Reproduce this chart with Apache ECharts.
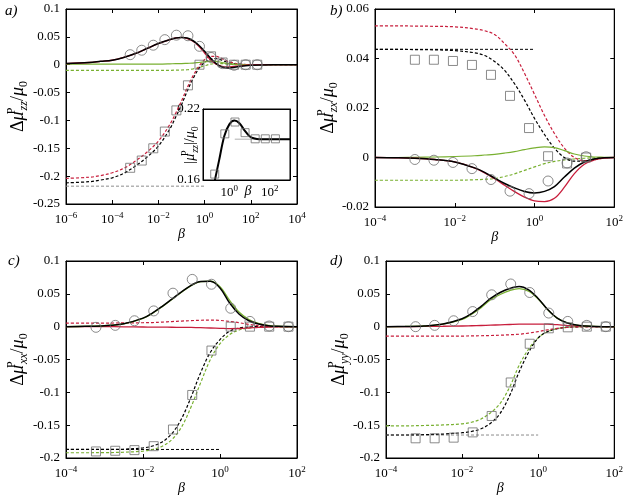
<!DOCTYPE html>
<html><head><meta charset="utf-8">
<script src="https://cdn.jsdelivr.net/npm/echarts@6/dist/echarts.min.js"></script>
<style>html,body{margin:0;padding:0;background:#fff}#c{width:626px;height:496px}</style>
</head><body><div id="c"></div>
<script>
// ================= DATA =================
// ---- panel a ----
const aCurveBeta = [1e-6,1e-5,3.16e-5,1e-4,3.16e-4,1e-3,3.16e-3,0.01,0.0316,0.0562,0.1,0.178,0.316,0.562,1,1.78,3.16,5.62,10,17.8,31.6,100,1000,1e4];
const aBlackSolid = [0.002,0.004,0.006,0.008,0.013,0.02,0.029,0.038,0.045,0.048,0.049,0.048,0.043,0.035,0.024,0.012,0.002,-0.004,-0.006,-0.005,-0.003,-0.001,0,0];
const aRedSolid   = [0.002,0.004,0.006,0.008,0.013,0.02,0.029,0.038,0.045,0.048,0.049,0.047,0.042,0.033,0.021,0.009,0.001,-0.003,-0.004,-0.003,-0.002,0,0,0];
const aGreenSolid = [0.001,0.001,0.001,0.001,0.001,0.001,0.001,0.001,0.0015,0.002,0.002,0.0025,0.003,0.004,0.005,0.006,0.006,0.004,0.002,0.001,0.0005,0,0,0];
const aGreenDashed= [-0.01,-0.01,-0.01,-0.01,-0.01,-0.01,-0.01,-0.01,-0.01,-0.0098,-0.0095,-0.009,-0.0075,-0.005,-0.002,0.001,0.002,0.002,0.001,0.0005,0,0,0,0];
const aBlackDashed= [-0.212,-0.21,-0.207,-0.203,-0.195,-0.182,-0.166,-0.146,-0.115,-0.094,-0.072,-0.047,-0.025,-0.007,0.004,0.01,0.011,0.008,0.004,0.002,0.001,0,0,0];
const aRedDashed  = [-0.204,-0.202,-0.199,-0.194,-0.186,-0.173,-0.157,-0.137,-0.107,-0.087,-0.065,-0.041,-0.02,-0.003,0.009,0.015,0.015,0.011,0.006,0.003,0.001,0,0,0];
const aHLineBeta = [1e-6,1];
const aHLine = [-0.218,-0.218];
const aPtBeta = [6e-4,1.9e-3,6e-3,0.019,0.06,0.19,0.6,1.9,6,19,60,190];
const aSquares = [-0.185,-0.172,-0.15,-0.12,-0.082,-0.037,0,0.015,0.004,0,0,0];
const aCircles = [0.018,0.026,0.035,0.045,0.053,0.052,0.033,0.013,0.002,-0.001,0,0];
const aYTicks = [-0.25,0.1,0.05];          // min, max, step
const aXTicks = [1e-6,1e4];
// ---- inset of a ----
const insetBeta  = [0.178,0.316,0.562,1,1.78,3.16,5.62,10,17.8,31.6,100,1000];
const insetCurve = [0.157,0.177,0.197,0.207,0.2103,0.208,0.202,0.197,0.195,0.1945,0.1945,0.1945];
const insetGrayBeta = [1.86,1000];
const insetGray = [0.1945,0.1945];
const insetPtBeta = [0.19,0.6,1.9,6,19,60,190];
const insetSquares = [0.165,0.199,0.209,0.2,0.1948,0.1948,0.1948];
const insetYTicks = [0.16,0.22];
const insetXTicks = [0.05,1000];
// ---- panel b ----
const bCurveBeta = [1e-4,3.16e-4,1e-3,3.16e-3,0.01,0.0316,0.0562,0.1,0.178,0.316,0.562,1,1.78,3.16,5.62,10,17.8,31.6,56.2,100];
const bRedDashed  = [0.0532,0.0532,0.0531,0.053,0.0528,0.052,0.0512,0.0497,0.046,0.0415,0.034,0.0255,0.017,0.0097,0.0038,0,-0.0013,-0.0009,-0.0002,0];
const bBlackDashed= [0.0437,0.0437,0.0436,0.0435,0.0432,0.0423,0.0412,0.0388,0.0352,0.0298,0.0232,0.0158,0.0093,0.0038,0,-0.0015,-0.0014,-0.0006,-0.0001,0];
const bGreenSolid = [0,0,0.0001,0.0002,0.0004,0.0007,0.001,0.0013,0.0018,0.0024,0.0032,0.0039,0.0043,0.004,0.0028,0.0014,0.0006,0.0002,0.0001,0];
const bGreenDashed= [-0.0092,-0.0092,-0.0092,-0.0092,-0.0092,-0.009,-0.0088,-0.0085,-0.0077,-0.0066,-0.0052,-0.0038,-0.0025,-0.0016,-0.001,-0.0006,-0.0003,-0.0001,0,0];
const bBlackSolid = [0,-0.0001,-0.0003,-0.0008,-0.0018,-0.0042,-0.006,-0.0083,-0.0105,-0.0123,-0.0137,-0.0143,-0.0137,-0.0118,-0.0079,-0.0043,-0.0018,-0.0006,-0.0001,0];
const bRedSolid   = [0,-0.0001,-0.0003,-0.0008,-0.0018,-0.0043,-0.0062,-0.0086,-0.0112,-0.0138,-0.016,-0.0175,-0.0178,-0.0165,-0.012,-0.0065,-0.0027,-0.001,-0.0002,0];
const bHLineBeta = [1e-4,1];
const bHLine = [0.0437,0.0437];
const bPtBeta = [0.001,0.003,0.009,0.027,0.081,0.243,0.729,2.19,6.56,19.7];
const bSquares = [0.0395,0.0395,0.039,0.0374,0.0334,0.0249,0.0119,0.0005,-0.0024,0];
const bCircles = [-0.0008,-0.0011,-0.002,-0.0045,-0.0089,-0.0136,-0.0146,-0.0095,-0.0022,0.0003];
const bYTicks = [-0.02,0.06,0.02];
const bXTicks = [1e-4,100];
// ---- panels c, d (shared curve abscissae) ----
const cdCurveBeta = [1e-4,3.16e-4,1e-3,3.16e-3,0.01,0.0178,0.0316,0.0562,0.1,0.178,0.316,0.562,1,1.78,3.16,5.62,10,17.8,31.6,100];
const cdPtBeta = [6e-4,1.9e-3,6e-3,0.019,0.06,0.19,0.6,1.9,6,19,60];
const cdYTicks = [-0.2,0.1,0.05];
const cdXTicks = [1e-4,100];
// ---- panel c ----
const cBlackSolid = [0,0.0005,0.0015,0.0045,0.013,0.021,0.031,0.042,0.053,0.063,0.0688,0.069,0.059,0.036,0.019,0.009,0.004,0.0015,0.0005,0];
const cGreenSolid = [0,0.0005,0.0015,0.0044,0.0127,0.0205,0.0305,0.0415,0.0525,0.0625,0.0685,0.0692,0.061,0.04,0.022,0.011,0.005,0.002,0.0006,0];
const cRedSolid   = [0,0,0,-0.0002,-0.0005,-0.0007,-0.0008,-0.0009,-0.001,-0.0012,-0.0015,-0.002,-0.0025,-0.003,-0.0028,-0.002,-0.001,-0.0005,-0.0003,0];
const cRedDashed  = [0.0055,0.0055,0.0055,0.0057,0.006,0.0063,0.007,0.0078,0.0085,0.0092,0.0098,0.01,0.0095,0.008,0.006,0.0035,0.0015,0.0006,0.0002,0];
const cBlackDashed= [-0.187,-0.187,-0.1869,-0.1865,-0.1846,-0.1817,-0.1755,-0.1629,-0.1403,-0.1069,-0.0696,-0.039,-0.0196,-0.007,-0.002,-0.0005,0,0,0,0];
const cGreenDashed= [-0.192,-0.192,-0.1918,-0.1912,-0.1895,-0.187,-0.182,-0.172,-0.153,-0.122,-0.085,-0.05,-0.026,-0.012,-0.005,-0.002,-0.0008,-0.0003,0,0];
const cHLineBeta = [1e-4,1];
const cHLine = [-0.187,-0.187];
const cSquares = [-0.19,-0.189,-0.188,-0.182,-0.1566,-0.104,-0.0364,0,0,0,0];
const cCircles = [-0.001,0.002,0.009,0.024,0.051,0.072,0.0646,0.028,0.008,0.001,0];
// ---- panel d ----
const dBlackSolid = [0,0.0003,0.001,0.004,0.012,0.02,0.031,0.043,0.052,0.058,0.061,0.056,0.043,0.026,0.013,0.006,0.0025,0.001,0.0003,0];
const dGreenSolid = [0,0.0003,0.001,0.0038,0.011,0.019,0.029,0.041,0.049,0.055,0.058,0.054,0.042,0.026,0.013,0.006,0.0025,0.001,0.0003,0];
const dRedSolid   = [0,0.0001,0.0003,0.0006,0.001,0.0014,0.0018,0.0023,0.0028,0.0033,0.0038,0.004,0.004,0.0038,0.003,0.002,0.0012,0.0006,0.0002,0];
const dRedDashed  = [-0.0145,-0.0145,-0.0145,-0.0144,-0.0143,-0.0141,-0.0138,-0.0135,-0.013,-0.0123,-0.0115,-0.0098,-0.0075,-0.0048,-0.0025,-0.0012,-0.0005,-0.0002,0,0];
const dGreenDashed= [-0.151,-0.151,-0.1505,-0.1497,-0.148,-0.1455,-0.1405,-0.131,-0.117,-0.092,-0.059,-0.034,-0.017,-0.0075,-0.003,-0.001,-0.0003,0,0,0];
const dBlackDashed= [-0.165,-0.165,-0.1645,-0.1635,-0.1615,-0.1595,-0.1555,-0.147,-0.132,-0.105,-0.069,-0.039,-0.017,-0.0075,-0.003,-0.001,-0.0003,0,0,0];
const dHLineBeta = [1e-4,1];
const dHLine = [-0.165,-0.165];
const dSquares = [-0.17,-0.17,-0.169,-0.161,-0.136,-0.085,-0.026,-0.0025,-0.001,0,0];
const dCircles = [0,0.002,0.009,0.023,0.0485,0.065,0.052,0.0207,0.008,0.002,0];

// ================= STYLE / BUILD =================
const FONT = '"Liberation Serif","DejaVu Serif",serif';
const RED = '#c81e3c', GREEN = '#78b030', BLACK = '#000000', GRAY = '#6e6e6e', LGRAY = '#8c8c8c';
const pairs = (xs, ys) => xs.map((x, i) => [x, ys[i]]);

function expText(v) {
  const e = Math.round(Math.log10(v));
  return '{b|10}{e|' + (e < 0 ? '\u2212' + (-e) : String(e)) + '}';
}
const expRich = {
  b: {fontFamily: FONT, fontSize: 13, color: '#000', lineHeight: 18},
  e: {fontFamily: FONT, fontSize: 9, color: '#000', lineHeight: 10, verticalAlign: 'top'}
};
function yNameText(sub) {
  return '{d|\u0394}{i|\u03bc}{p|P}{s|' + sub + '}{d|/}{i|\u03bc}{z|0}';
}
function yRich(big, small) {
  return {
    d: {fontFamily: FONT, fontSize: big, lineHeight: big + 6, color: '#000'},
    i: {fontFamily: FONT, fontSize: big, fontStyle: 'italic', lineHeight: big + 6, color: '#000'},
    p: {fontFamily: FONT, fontSize: small, lineHeight: small, verticalAlign: 'top', width: 1, color: '#000'},
    s: {fontFamily: FONT, fontSize: small, fontStyle: 'italic', lineHeight: small, verticalAlign: 'bottom', color: '#000'},
    z: {fontFamily: FONT, fontSize: small, lineHeight: small, verticalAlign: 'bottom', color: '#000'}
  };
}

const grids = [], xAxes = [], yAxes = [], series = [];
const axisLineS = {show: true, onZero: false, lineStyle: {color: '#000', width: 1}};
const tickS = {show: true, inside: true, length: 4, lineStyle: {color: '#000', width: 1}};

function addPanel(p) {
  const gi = grids.length;
  grids.push({left: p.left, top: p.top, width: p.width, height: p.height, show: true,
    borderColor: '#000', borderWidth: 1, backgroundColor: '#fff', containLabel: false});
  const xi = xAxes.length, yi = yAxes.length;
  const xBase = {type: 'log', logBase: 10, gridIndex: gi, min: p.xTicks[0], max: p.xTicks[1],
    splitLine: {show: false}, minorTick: {show: false}, minorSplitLine: {show: false},
    axisLine: axisLineS, axisTick: p.inset ? {show: false} : tickS};
  if (!p.inset) { xBase.interval = 2; xBase.splitNumber = p.xSplit; }
  xAxes.push(Object.assign({}, xBase, {position: 'bottom',
    axisLabel: {margin: p.inset ? 4 : 7, rich: expRich, showMinLabel: !p.inset, showMaxLabel: !p.inset,
      formatter: p.inset ? (v => { const l = Math.log10(v); return (Math.abs(l) < 1e-6 || Math.abs(l - 2) < 1e-6) ? expText(v) : ''; }) : expText},
    name: p.inset ? '' : '\u03b2', nameLocation: 'middle', nameGap: 23, nameMoveOverlap: false,
    nameTextStyle: {fontFamily: FONT, fontStyle: 'italic', fontSize: 14, color: '#000'}}));
  xAxes.push(Object.assign({}, xBase, {position: 'top', axisLabel: {show: false}}));
  const yBase = {type: 'value', gridIndex: gi, min: p.yTicks[0], max: p.yTicks[1],
    splitLine: {show: false}, axisLine: axisLineS, axisTick: p.inset ? {show: false} : tickS};
  if (!p.inset) yBase.interval = p.yTicks[2];
  yAxes.push(Object.assign({}, yBase, {position: 'left',
    axisLabel: {margin: p.inset ? 3 : 6, fontFamily: FONT, fontSize: 13, color: '#000',
      formatter: p.inset ? (v => (Math.abs(v - 0.16) < 1e-9 || Math.abs(v - 0.22) < 1e-9) ? String(v) : '') : null},
    name: p.yName || '', nameLocation: 'middle', nameRotate: 90, nameGap: p.yGap || 0, nameMoveOverlap: false,
    nameTextStyle: {rich: p.yRich}}));
  yAxes.push(Object.assign({}, yBase, {position: 'right', axisLabel: {show: false}}));
  (p.lines || []).forEach((l, k) => {
    series.push({type: 'line', xAxisIndex: xi, yAxisIndex: yi, data: pairs(l.x, l.y),
      symbol: 'none', showSymbol: false, smooth: l.smooth === false ? false : 0.35, silent: true,
      lineStyle: {color: l.color, width: l.width || 1.2, type: l.dash ? [3, 2] : 'solid'},
      z: 2 + k * 0.01});
  });
  (p.marks || []).forEach(m => {
    series.push({type: 'scatter', xAxisIndex: xi, yAxisIndex: yi, data: pairs(m.x, m.y),
      symbol: m.shape, symbolSize: m.size || 10, silent: true,
      itemStyle: {color: 'rgba(0,0,0,0)', borderColor: GRAY, borderWidth: 1}, z: 3});
  });
}

// panel a
addPanel({left: 66, top: 9, width: 231, height: 195, xTicks: aXTicks, xSplit: 5, yTicks: aYTicks,
  yName: yNameText('zz'), yGap: 36, yRich: yRich(18, 12),
  lines: [
    {x: aHLineBeta, y: aHLine, color: LGRAY, dash: true, width: 1, smooth: false},
    {x: aCurveBeta, y: aGreenDashed, color: GREEN, dash: true},
    {x: aCurveBeta, y: aBlackDashed, color: BLACK, dash: true},
    {x: aCurveBeta, y: aRedDashed, color: RED, dash: true},
    {x: aCurveBeta, y: aGreenSolid, color: GREEN},
    {x: aCurveBeta, y: aRedSolid, color: RED, width: 1.3},
    {x: aCurveBeta, y: aBlackSolid, color: BLACK, width: 1.5}
  ],
  marks: [{x: aPtBeta, y: aCircles, shape: 'circle'}, {x: aPtBeta, y: aSquares, shape: 'rect', size: 9}]
});
// inset
addPanel({inset: true, left: 203, top: 109, width: 87, height: 71, xTicks: insetXTicks, yTicks: insetYTicks,
  lines: [
    {x: insetGrayBeta, y: insetGray, color: '#9a9a9a', width: 0.8, smooth: false},
    {x: insetBeta, y: insetCurve, color: BLACK, width: 2}
  ],
  marks: [{x: insetPtBeta, y: insetSquares, shape: 'rect', size: 8}]
});
// panel b
addPanel({left: 375, top: 9, width: 241, height: 198, xTicks: bXTicks, xSplit: 3, yTicks: bYTicks,
  yName: yNameText('zx'), yGap: 35, yRich: yRich(18, 12),
  lines: [
    {x: bHLineBeta, y: bHLine, color: BLACK, dash: true, width: 1, smooth: false},
    {x: bCurveBeta, y: bGreenDashed, color: GREEN, dash: true},
    {x: bCurveBeta, y: bBlackDashed, color: BLACK, dash: true},
    {x: bCurveBeta, y: bRedDashed, color: RED, dash: true},
    {x: bCurveBeta, y: bGreenSolid, color: GREEN},
    {x: bCurveBeta, y: bRedSolid, color: RED, width: 1.3},
    {x: bCurveBeta, y: bBlackSolid, color: BLACK, width: 1.5}
  ],
  marks: [{x: bPtBeta, y: bCircles, shape: 'circle'}, {x: bPtBeta, y: bSquares, shape: 'rect', size: 9}]
});
// panel c
addPanel({left: 66, top: 261, width: 231, height: 198, xTicks: cdXTicks, xSplit: 3, yTicks: cdYTicks,
  yName: yNameText('xx'), yGap: 36, yRich: yRich(18, 12),
  lines: [
    {x: cHLineBeta, y: cHLine, color: BLACK, dash: true, width: 1, smooth: false},
    {x: cdCurveBeta, y: cGreenDashed, color: GREEN, dash: true},
    {x: cdCurveBeta, y: cBlackDashed, color: BLACK, dash: true},
    {x: cdCurveBeta, y: cRedDashed, color: RED, dash: true},
    {x: cdCurveBeta, y: cRedSolid, color: RED, width: 1.3},
    {x: cdCurveBeta, y: cGreenSolid, color: GREEN, width: 1.3},
    {x: cdCurveBeta, y: cBlackSolid, color: BLACK, width: 1.5}
  ],
  marks: [{x: cdPtBeta, y: cCircles, shape: 'circle'}, {x: cdPtBeta, y: cSquares, shape: 'rect', size: 9}]
});
// panel d
addPanel({left: 386, top: 261, width: 230, height: 198, xTicks: cdXTicks, xSplit: 3, yTicks: cdYTicks,
  yName: yNameText('yy'), yGap: 35, yRich: yRich(18, 12),
  lines: [
    {x: dHLineBeta, y: dHLine, color: LGRAY, dash: true, width: 1, smooth: false},
    {x: cdCurveBeta, y: dGreenDashed, color: GREEN, dash: true},
    {x: cdCurveBeta, y: dBlackDashed, color: BLACK, dash: true},
    {x: cdCurveBeta, y: dRedDashed, color: RED, dash: true},
    {x: cdCurveBeta, y: dRedSolid, color: RED, width: 1.3},
    {x: cdCurveBeta, y: dGreenSolid, color: GREEN, width: 1.3},
    {x: cdCurveBeta, y: dBlackSolid, color: BLACK, width: 1.5}
  ],
  marks: [{x: cdPtBeta, y: dCircles, shape: 'circle'}, {x: cdPtBeta, y: dSquares, shape: 'rect', size: 9}]
});

const letterFont = 'italic 15px ' + FONT;
const chart = echarts.init(document.getElementById('c'), null, {renderer: 'canvas'});
chart.setOption({
  animation: false,
  backgroundColor: '#fff',
  grid: grids, xAxis: xAxes, yAxis: yAxes, series: series,
  graphic: [
    {type: 'text', left: 5, top: 4, style: {text: 'a)', font: letterFont, fill: '#000'}},
    {type: 'text', left: 330, top: 4, style: {text: 'b)', font: letterFont, fill: '#000'}},
    {type: 'text', left: 8, top: 254, style: {text: 'c)', font: letterFont, fill: '#000'}},
    {type: 'text', left: 330, top: 254, style: {text: 'd)', font: letterFont, fill: '#000'}},
    // inset axis titles
    {type: 'text', x: 248, y: 191, z: 10, style: {text: '\u03b2', font: 'italic 14px ' + FONT, fill: '#000', align: 'center', verticalAlign: 'middle'}},
    {type: 'text', x: 190, y: 145, rotation: Math.PI / 2, z: 10,
      style: {text: '{d|\u007c}{i|\u03bc}{p|P}{s|zz}{d|\u007c/}{i|\u03bc}{z|0}', rich: yRich(14, 10), align: 'center', verticalAlign: 'middle'}}
  ]
});
</script>
</body></html>
